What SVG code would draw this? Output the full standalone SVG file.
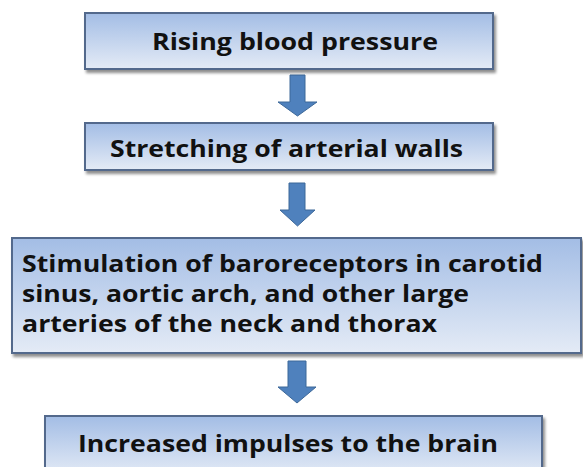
<svg xmlns="http://www.w3.org/2000/svg" width="583" height="467" viewBox="0 0 583 467">
<defs>
<linearGradient id="g" x1="0" y1="0" x2="0" y2="1">
<stop offset="0" stop-color="#a3bde5"/>
<stop offset="1" stop-color="#e4ebf6"/>
</linearGradient>
<filter id="sh" x="-5%" y="-10%" width="110%" height="130%">
<feGaussianBlur in="SourceAlpha" stdDeviation="1.5"/>
<feOffset dx="2" dy="3" result="b"/>
<feComponentTransfer><feFuncA type="linear" slope="0.45"/></feComponentTransfer>
<feMerge><feMergeNode/><feMergeNode in="SourceGraphic"/></feMerge>
</filter>
</defs>
<style>
.box{fill:url(#g);stroke:#52698c;stroke-width:2;filter:url(#sh)}
.t{font-family:"Open Sans","Liberation Sans",sans-serif;font-weight:700;font-size:23px;fill:#111}
.arr{fill:#4f81bd;stroke:#3d6899;stroke-width:1}
</style>
<rect width="583" height="467" fill="#ffffff"/>
<g id="connectors">
<path class="arr" d="M290,75 H305 V102 H317 L297.5,116 L278,102 H290 Z"/>
<path class="arr" d="M289,183 H305 V210 H315 L297.5,226 L280,210 H289 Z"/>
<path class="arr" d="M288,361 H306 V387 H316 L297,403 L278,387 H288 Z"/>
</g>
<g id="n1">
<rect class="box" x="85" y="13" width="408" height="56"/>
<text class="t" x="152" y="50" textLength="286" lengthAdjust="spacingAndGlyphs">Rising blood pressure</text>
</g>
<g id="n2">
<rect class="box" x="85" y="123" width="408" height="47"/>
<text class="t" x="110" y="157" textLength="353" lengthAdjust="spacingAndGlyphs">Stretching of arterial walls</text>
</g>
<g id="n3">
<rect class="box" x="12" y="238" width="569" height="115"/>
<text class="t" x="22" y="272" textLength="521" lengthAdjust="spacingAndGlyphs">Stimulation of baroreceptors in carotid</text>
<text class="t" x="22" y="302" textLength="447" lengthAdjust="spacingAndGlyphs">sinus, aortic arch, and other large</text>
<text class="t" x="22" y="332" textLength="415" lengthAdjust="spacingAndGlyphs">arteries of the neck and thorax</text>
</g>
<g id="n4">
<rect class="box" x="45" y="416" width="497" height="60"/>
<text class="t" x="78" y="452" textLength="420" lengthAdjust="spacingAndGlyphs">Increased impulses to the brain</text>
</g>
</svg>
